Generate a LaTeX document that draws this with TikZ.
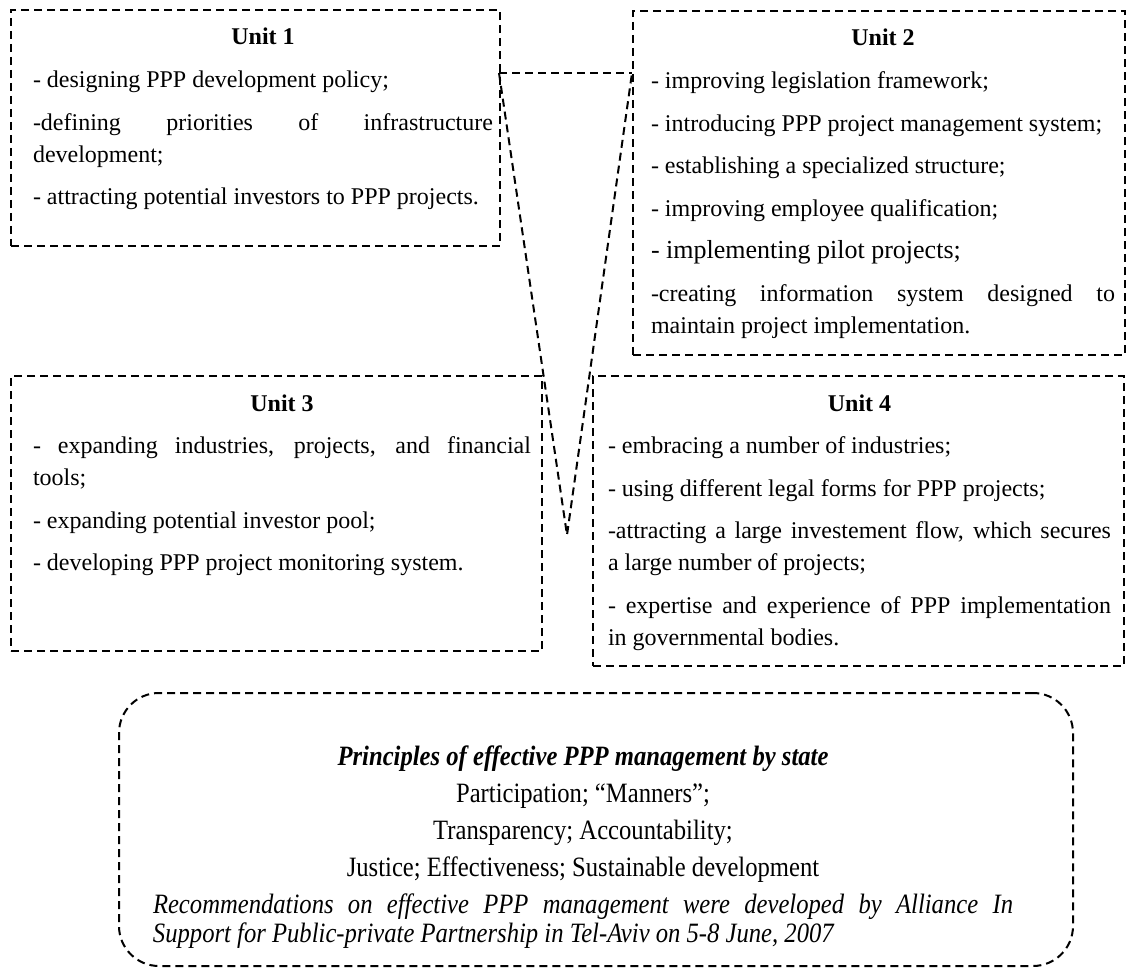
\documentclass[tikz,border=0pt]{standalone}
\usepackage{fontspec}
\setmainfont{Liberation Serif}
\newfontfamily\narrowserif[FakeStretch=0.88]{Liberation Serif}

\newdimen\px \px=0.5pt
%% box of fixed size, text from the top: height, left pad, width, right pad
\newcommand\unitbody[5]{\hspace*{#2\px}\parbox[t][#1\px][t]{#3\px}{%
  \fontsize{12pt}{16pt}\selectfont
  \setlength\parskip{5.3pt}\hyphenpenalty=10000 \exhyphenpenalty=10000
  #5}\hspace*{#4\px}}
\newcommand\unithead[1]{{\centering\rule{0pt}{35\px}\textbf{#1}\par}}

\begin{document}
\begin{tikzpicture}[x=\px, y=-\px,
  unit/.style={draw, dashed, line width=1pt, dash pattern=on 4pt off 2.5pt,
    anchor=north west, inner sep=0pt},
  link/.style={draw, line width=1pt, dash pattern=on 4pt off 2.5pt}]

  \useasboundingbox (0,0) rectangle (1126,969);

  \node[unit] (u1) at (10,9) {\unitbody{236}{22}{460}{7}{%
    \unithead{Unit 1}
    - designing PPP development policy;

    -defining priorities of infrastructure\linebreak development;

    - attracting potential investors to PPP projects.}};

  \node[unit] (u2) at (632,10) {\unitbody{344}{18}{464}{10}{%
    \unithead{Unit 2}
    - improving legislation framework;

    - introducing PPP project management system;

    - establishing a specialized structure;

    - improving employee qualification;

    {\fontsize{13pt}{16pt}\selectfont - implementing pilot projects;\par}

    -creating information system designed to\linebreak maintain project implementation.}};

  \node[unit] (u3) at (10,375) {\unitbody{275}{22}{498}{11}{%
    \unithead{Unit 3}
    - expanding industries, projects, and financial\linebreak tools;

    - expanding potential investor pool;

    - developing PPP project monitoring system.}};

  \node[unit] (u4) at (592,375) {\unitbody{290}{15}{503}{13}{%
    \unithead{Unit 4}
    - embracing a number of industries;

    - using different legal forms for PPP projects;

    -attracting a large investement flow, which secures\linebreak a large number of projects;

    - expertise and experience of PPP implementation\linebreak in governmental bodies.}};

  %% the V between the units
  \coordinate (vl) at (499,73);
  \coordinate (vr) at (632,73);
  \coordinate (vb) at (567,535);
  \draw[link] (vl) -- (vr);
  \draw[link] (vl) -- (vb) -- (vr);

  \node[unit, rounded corners=20pt] (pr) at (118,692) {\hspace*{34\px}%
    \parbox[t][273\px][t]{860\px}{\narrowserif
    \fontsize{14pt}{14.5pt}\selectfont\setlength\parskip{4pt}
    \hyphenpenalty=10000
    {\centering\rule{0pt}{72\px}\textbf{\textit{Principles of effective PPP management by state}}\par
    Participation; “Manners”;\par
    Transparency; Accountability;\par
    Justice; Effectiveness; Sustainable development\par}
    \textit{Recommendations on effective PPP management were developed by Alliance In\linebreak
    Support for Public-private Partnership in Tel-Aviv on 5-8 June, 2007}}\hspace*{60\px}};

\end{tikzpicture}
\end{document}
